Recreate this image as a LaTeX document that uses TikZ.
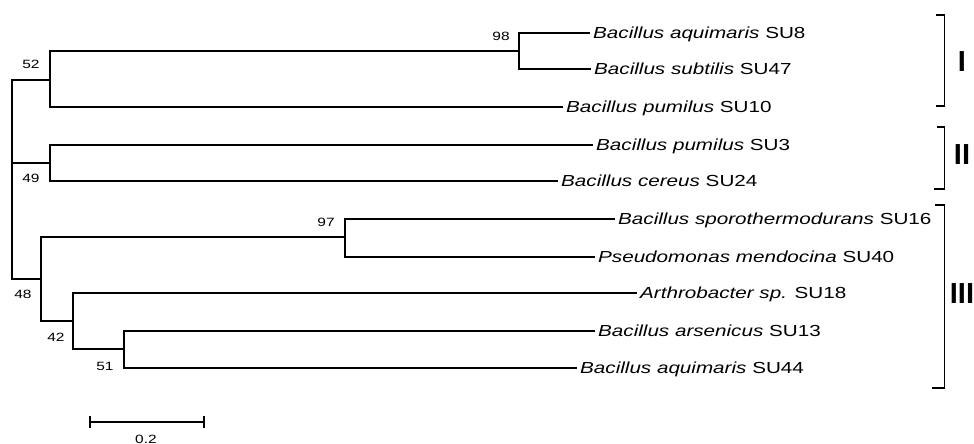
\documentclass[tikz,border=0pt]{standalone}
\usepackage{fontspec}
\setmainfont{Liberation Sans}[FakeStretch=1.29]
\newfontfamily\grpfont{Liberation Sans}
\tikzset{
  branch/.style={line width=1.15pt, black},
  brk/.style={line width=1.3pt, black},
  leaflbl/.style={anchor=base west, inner xsep=3pt, inner ysep=0pt, yshift=-5.7pt, font=\fontsize{16}{19}\selectfont},
  boot/.style={inner sep=0pt, font=\fontsize{12}{14}\selectfont},
  grp/.style={inner sep=0pt, font=\grpfont\bfseries\fontsize{29}{32}\selectfont}
}
\begin{document}
\begin{tikzpicture}[x=1pt, y=-1pt]
\useasboundingbox (0,0) rectangle (974,444);
% internal nodes
\coordinate (root) at (12,179.5);
\coordinate (n52) at (50,80);
\coordinate (n98) at (519,51);
\coordinate (n49) at (50,163);
\coordinate (n48) at (41,279);
\coordinate (n97) at (345,237);
\coordinate (n42) at (73,321);
\coordinate (n51) at (124,349);
% leaf ends
\coordinate (e1) at (590,33);
\coordinate (e2) at (591,69);
\coordinate (e3) at (563,107);
\coordinate (e4) at (593,145);
\coordinate (e5) at (558,181);
\coordinate (e6) at (615,219);
\coordinate (e7) at (595,257);
\coordinate (e8) at (637,293);
\coordinate (e9) at (595,331);
\coordinate (e10) at (577,368);
% branches
\draw[branch] (root) |- (n52);
\draw[branch] (root) |- (n49);
\draw[branch] (root) |- (n48);
\draw[branch] (n52) |- (n98);
\draw[branch] (n52) |- (e3);
\draw[branch] (n98) |- (e1);
\draw[branch] (n98) |- (e2);
\draw[branch] (n49) |- (e4);
\draw[branch] (n49) |- (e5);
\draw[branch] (n48) |- (n97);
\draw[branch] (n48) |- (n42);
\draw[branch] (n97) |- (e6);
\draw[branch] (n97) |- (e7);
\draw[branch] (n42) |- (e8);
\draw[branch] (n42) |- (n51);
\draw[branch] (n51) |- (e9);
\draw[branch] (n51) |- (e10);
% leaf labels
\node[leaflbl] (l1) at (e1) {\textit{Bacillus aquimaris} SU8};
\node[leaflbl] (l2) at (e2) {\textit{Bacillus subtilis} SU47};
\node[leaflbl] (l3) at (e3) {\textit{Bacillus pumilus} SU10};
\node[leaflbl] (l4) at (e4) {\textit{Bacillus pumilus} SU3};
\node[leaflbl] (l5) at (e5) {\textit{Bacillus cereus} SU24};
\node[leaflbl] (l6) at (e6) {\textit{Bacillus sporothermodurans} SU16};
\node[leaflbl] (l7) at (e7) {\textit{Pseudomonas mendocina} SU40};
\node[leaflbl] (l8) at (e8) {\textit{Arthrobacter sp.} SU18};
\node[leaflbl] (l9) at (e9) {\textit{Bacillus arsenicus} SU13};
\node[leaflbl] (l10) at (e10) {\textit{Bacillus aquimaris} SU44};
% bootstrap values
\node[boot] (b52) at (31,64) {52};
\node[boot] (b98) at (501,36.7) {98};
\node[boot] (b49) at (31,178) {49};
\node[boot] (b97) at (326,222) {97};
\node[boot] (b48) at (23,294) {48};
\node[boot] (b42) at (56,337) {42};
\node[boot] (b51) at (105,366) {51};
% brackets
\coordinate (g1a) at (936,15);  \coordinate (g1b) at (944.5,15);
\coordinate (g1c) at (944.5,106); \coordinate (g1d) at (936,106);
\coordinate (g2a) at (937,127); \coordinate (g2b) at (944.5,127);
\coordinate (g2c) at (944.5,189); \coordinate (g2d) at (934,189);
\coordinate (g3a) at (935,205); \coordinate (g3b) at (944.5,205);
\coordinate (g3c) at (944.5,388); \coordinate (g3d) at (932,388);
\draw[brk] (g1a) -- (g1b) -- (g1c) -- (g1d);
\draw[brk] (g2a) -- (g2b) -- (g2c) -- (g2d);
\draw[brk] (g3a) -- (g3b) -- (g3c) -- (g3d);
\node[grp] (gI) at (962,62) {I};
\node[grp] (gII) at (962,154.5) {II};
\node[grp] (gIII) at (962,294) {III};
% scale bar
\coordinate (s1) at (90,422);
\coordinate (s2) at (204,422);
\draw[branch] (s1) -- (s2);
\draw[branch] ([yshift=-5.5pt]s1) -- ([yshift=6.5pt]s1);
\draw[branch] ([yshift=-5.5pt]s2) -- ([yshift=6.5pt]s2);
\node[boot] (sc) at (146,439) {0.2};
\end{tikzpicture}
\end{document}
